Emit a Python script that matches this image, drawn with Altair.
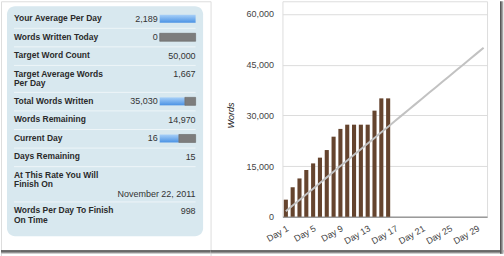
import altair as alt
import pandas as pd

# ---------------- data ----------------
days = ["Day %d" % i for i in range(1, 31)]
words_written = [5080, 8750, 11350, 13850, 15800, 17500, 19750, 23700, 26000,
                 27250, 27250, 27250, 27250, 31400, 35030, 35030]
target_words = [1667, 3333, 5000, 6667, 8333, 10000, 11667, 13333, 15000, 16667,
                18333, 20000, 21667, 23333, 25000, 26667, 28333, 30000, 31667, 33333,
                35000, 36667, 38333, 40000, 41667, 43333, 45000, 46667, 48333, 50000]
day_ticks = ["Day 1", "Day 5", "Day 9", "Day 13", "Day 17", "Day 21", "Day 25", "Day 29"]
y_ticks = [0, 15000, 30000, 45000, 60000]

stat_labels = ["Your Average Per Day", "Words Written Today", "Target Word Count",
               "Target Average Words\nPer Day", "Total Words Written", "Words Remaining",
               "Current Day", "Days Remaining", "At This Rate You Will\nFinish On",
               "Words Per Day To Finish\nOn Time"]
stat_values = ["2,189", "0", "50,000", "1,667", "35,030", "14,970", "16", "15",
               "November 22, 2011", "998"]
progress_rows = [0, 1, 4, 6]
progress_done = [2189, 0, 35030, 16]
progress_goal = [1667, 1667, 50000, 30]

# ---------------- layout / style ----------------
FONT = "Liberation Sans"
LW, LH = 210, 256
TEXT_L, TEXT_R, BAR_L, BAR_R, VAL_R_BAR = 13, 195, 159, 195, 157
ROW_H, LINE_H, TOP, TEXT_OFF = 18.6, 8.4, 8.5, 9.0
TEXT_LH = 9.3

labels, values, seps, blue, gray = [], [], [], [], []
top = TOP
for i, (lab, val) in enumerate(zip(stat_labels, stat_values)):
    lines = lab.split("\n")
    own_line = len(val) > 10
    n = len(lines) + (1 if own_line else 0)
    y0 = top + TEXT_OFF
    labels.append({"t": lab, "x": TEXT_L, "y": y0 - 4.6})
    has_bar = i in progress_rows
    vy = y0 + (n - 1) * TEXT_LH if own_line else y0
    values.append({"t": val, "x": VAL_R_BAR if has_bar else TEXT_R, "y": vy})
    if has_bar:
        j = progress_rows.index(i)
        frac = min(1.0, progress_done[j] / progress_goal[j])
        xm = BAR_L + (BAR_R - BAR_L) * frac
        if frac > 0:
            blue.append({"x": BAR_L, "x2": xm, "y": y0 - 4, "y2": y0 + 4})
        if frac < 1:
            gray.append({"x": xm, "x2": BAR_R, "y": y0 - 4, "y2": y0 + 4})
    top += ROW_H + LINE_H * (n - 1)
    if i < len(stat_labels) - 1:
        seps.append({"x": TEXT_L, "x2": TEXT_R, "y": top})

sx = alt.Scale(domain=[0, LW], nice=False, zero=False)
sy = alt.Scale(domain=[0, LH], nice=False, zero=False, reverse=True)

def X(f="x"):
    return alt.X(f + ":Q", scale=sx, axis=None)

def Y(f="y"):
    return alt.Y(f + ":Q", scale=sy, axis=None)

panel = alt.Chart(pd.DataFrame([{"x": 6, "x2": 202.5, "y": 5, "y2": 235.5}])).mark_rect(
    fill="#d8e8ef", cornerRadius=8
).encode(x=X(), x2="x2:Q", y=Y(), y2="y2:Q")

sep_layer = alt.Chart(pd.DataFrame(seps)).mark_rule(stroke="#eef5f8", strokeWidth=1).encode(
    x=X(), x2="x2:Q", y=Y())

label_layer = alt.Chart(pd.DataFrame(labels)).mark_text(
    align="left", baseline="top", font=FONT, fontWeight="bold", fontSize=8.5,
    color="#2a2a2a", lineBreak="\n", lineHeight=TEXT_LH
).encode(x=X(), y=Y(), text="t:N")

value_layer = alt.Chart(pd.DataFrame(values)).mark_text(
    align="right", baseline="middle", font=FONT, fontSize=9, color="#333333"
).encode(x=X(), y=Y(), text="t:N")

blue_grad = alt.Gradient(gradient="linear", x1=0, x2=0, y1=0, y2=1,
                         stops=[alt.GradientStop(color="#a8d0f8", offset=0),
                                alt.GradientStop(color="#4a92e4", offset=1)])
blue_layer = alt.Chart(pd.DataFrame(blue)).mark_rect(fill=blue_grad).encode(
    x=X(), x2="x2:Q", y=Y(), y2="y2:Q")
gray_layer = alt.Chart(pd.DataFrame(gray)).mark_rect(
    fill="#7d7d7d", stroke="#666666", strokeWidth=0.6).encode(
    x=X(), x2="x2:Q", y=Y(), y2="y2:Q")

frame_grad_v = alt.Gradient(gradient="linear", x1=0, x2=0, y1=0, y2=1,
                            stops=[alt.GradientStop(color="#333333", offset=0),
                                   alt.GradientStop(color="#c8c8c8", offset=1)])
frame_grad_h = alt.Gradient(gradient="linear", x1=0, x2=1, y1=0, y2=0,
                            stops=[alt.GradientStop(color="#444444", offset=0),
                                   alt.GradientStop(color="#cccccc", offset=1)])
one = pd.DataFrame({"a": [0]})
left_frame = alt.Chart(one).mark_rect(fill=frame_grad_v).encode(
    x=alt.value(0), x2=alt.value(LW), y=alt.value(249.5), y2=alt.value(253))

left = alt.layer(panel, sep_layer, label_layer, value_layer, blue_layer, gray_layer,
                 left_frame).properties(width=LW, height=LH)

# ---------------- right chart ----------------
bars_df = pd.DataFrame({"day": days[:len(words_written)], "words": words_written})
target_df = pd.DataFrame({"day": days, "target": target_words})

xenc = alt.X("day:N", sort=days,
             scale=alt.Scale(domain=days, paddingInner=0.4, paddingOuter=0.2),
             axis=alt.Axis(values=day_ticks, title=None, labelAngle=330, labelFont=FONT,
                           labelFontSize=9, labelColor="#444444", ticks=False, tickSize=0,
                           labelPadding=7, domainColor="#9a9a9a", domainWidth=1.5,
                           grid=False, labelAlign="right", labelBaseline="top"))
yscale = alt.Scale(domain=[0, 63750], nice=False, zero=True)
yaxis = alt.Axis(values=y_ticks, format=",d", title="Words", titleFont=FONT,
                 titleFontStyle="italic", titleFontWeight="normal", titleFontSize=9,
                 titleColor="#222222", titleX=-52, titleY=114, titleAngle=270,
                 titleBaseline="middle", labelFont=FONT, labelFontSize=9,
                 labelColor="#444444", labelPadding=9, ticks=False, tickSize=0,
                 domain=False, grid=True, gridColor="#dcdcdc", gridWidth=1)

bars = alt.Chart(bars_df).mark_bar(color="#65442e").encode(
    x=xenc, y=alt.Y("words:Q", scale=yscale, axis=yaxis))
line = alt.Chart(target_df).mark_line(color="#c2c2c2", strokeWidth=2).encode(
    x=alt.X("day:N", sort=days), y=alt.Y("target:Q", scale=yscale))
right_bottom = alt.Chart(one).mark_rect(fill=frame_grad_v).encode(
    x=alt.value(-72), x2=alt.value(221.5), y=alt.value(249.5), y2=alt.value(253))
right_border = alt.Chart(one).mark_rect(fill=frame_grad_h).encode(
    x=alt.value(218), x2=alt.value(221.5), y=alt.value(0), y2=alt.value(253))

right = alt.layer(bars, line, right_bottom, right_border).properties(width=205, height=216)

chart = alt.hconcat(left, right, spacing=72, bounds="flush").properties(
    padding=0, background="white"
).configure_view(strokeWidth=0).configure(font=FONT)

chart.save("out.html", embed_options={"renderer": "svg", "actions": False})
